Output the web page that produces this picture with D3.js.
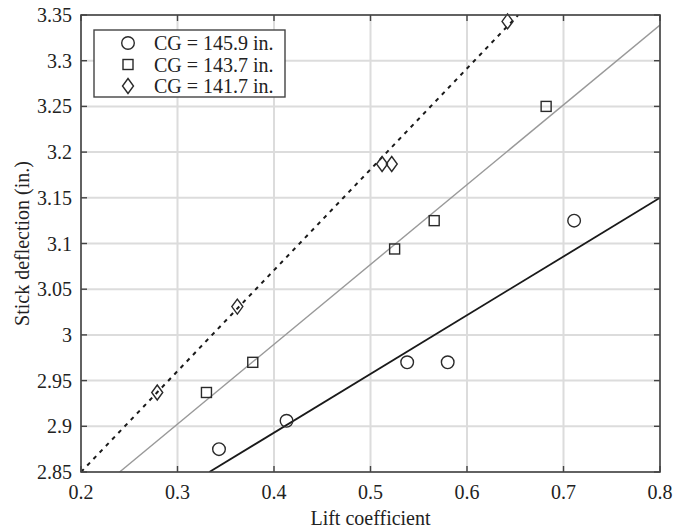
<!DOCTYPE html>
<html>
<head>
<meta charset="utf-8">
<script src="https://cdn.jsdelivr.net/npm/d3@7"></script>
<style>
  body { margin: 0; background: #fff; }
  text { font-family: "Liberation Serif", "Times New Roman", serif; fill: #222; }
</style>
</head>
<body>
<div id="chart"></div>
<script>
const xTicks = [0.2, 0.3, 0.4, 0.5, 0.6, 0.7, 0.8];
const yTicks = [2.85, 2.9, 2.95, 3, 3.05, 3.1, 3.15, 3.2, 3.25, 3.3, 3.35];

const seriesNames = ["CG = 145.9 in.", "CG = 143.7 in.", "CG = 141.7 in."];
const circleX = [0.343, 0.413, 0.538, 0.580, 0.711];
const circleY = [2.875, 2.906, 2.970, 2.970, 3.125];
const squareX = [0.330, 0.378, 0.525, 0.566, 0.682];
const squareY = [2.937, 2.970, 3.094, 3.125, 3.250];
const diamondX = [0.279, 0.362, 0.512, 0.522, 0.642];
const diamondY = [2.937, 3.031, 3.187, 3.187, 3.343];

// fitted lines: [x0, y0, x1, y1]
const fit145 = [0.333, 2.85, 0.8, 3.15];
const fit143 = [0.240, 2.85, 0.8, 3.339];
const fit141 = [0.200, 2.85, 0.653, 3.35];

const W = 673, H = 531;
const margin = { top: 15, right: 13, bottom: 59, left: 81 };
const width = W - margin.left - margin.right;
const height = H - margin.top - margin.bottom;

const svg = d3.select("#chart").append("svg").attr("width", W).attr("height", H);
const g = svg.append("g").attr("transform", `translate(${margin.left},${margin.top})`);

const x = d3.scaleLinear().domain([0.2, 0.8]).range([0, width]);
const y = d3.scaleLinear().domain([2.85, 3.35]).range([height, 0]);

// grid
g.append("g").selectAll("line").data(xTicks).enter().append("line")
  .attr("x1", d => x(d)).attr("x2", d => x(d))
  .attr("y1", 0).attr("y2", height)
  .attr("stroke", "#dcdcdc").attr("stroke-width", 2);
g.append("g").selectAll("line").data(yTicks).enter().append("line")
  .attr("y1", d => y(d)).attr("y2", d => y(d))
  .attr("x1", 0).attr("x2", width)
  .attr("stroke", "#dcdcdc").attr("stroke-width", 2);

g.append("clipPath").attr("id", "clip").append("rect")
  .attr("width", width).attr("height", height);

const lines = g.append("g").attr("clip-path", "url(#clip)");
function fitLine(f, color, w, dash) {
  lines.append("line")
    .attr("x1", x(f[0])).attr("y1", y(f[1]))
    .attr("x2", x(f[2])).attr("y2", y(f[3]))
    .attr("stroke", color).attr("stroke-width", w)
    .attr("stroke-dasharray", dash);
}
fitLine(fit145, "#1a1a1a", 1.8, null);
fitLine(fit143, "#999", 1.4, null);
fitLine(fit141, "#1a1a1a", 2, "4,5");

// markers
const mk = "#2a2a2a";
function drawCircle(sel, cx, cy) {
  sel.append("circle").attr("cx", cx).attr("cy", cy).attr("r", 6.3)
    .attr("fill", "none").attr("stroke", mk).attr("stroke-width", 1.4);
}
function drawSquare(sel, cx, cy) {
  sel.append("rect").attr("x", cx - 5).attr("y", cy - 5).attr("width", 10).attr("height", 10)
    .attr("fill", "none").attr("stroke", mk).attr("stroke-width", 1.4);
}
function drawDiamond(sel, cx, cy) {
  sel.append("path").attr("d", `M${cx},${cy - 7.5}L${cx + 5.5},${cy}L${cx},${cy + 7.5}L${cx - 5.5},${cy}Z`)
    .attr("fill", "none").attr("stroke", mk).attr("stroke-width", 1.4);
}
const pts = g.append("g");
circleX.forEach((v, i) => drawCircle(pts, x(v), y(circleY[i])));
squareX.forEach((v, i) => drawSquare(pts, x(v), y(squareY[i])));
diamondX.forEach((v, i) => drawDiamond(pts, x(v), y(diamondY[i])));

// box and ticks
const axisColor = "#444";
g.append("rect").attr("width", width).attr("height", height)
  .attr("fill", "none").attr("stroke", axisColor).attr("stroke-width", 1.6);
const tl = 6;
xTicks.forEach(t => {
  g.append("line").attr("x1", x(t)).attr("x2", x(t)).attr("y1", height).attr("y2", height - tl)
    .attr("stroke", axisColor).attr("stroke-width", 1.4);
  g.append("line").attr("x1", x(t)).attr("x2", x(t)).attr("y1", 0).attr("y2", tl)
    .attr("stroke", axisColor).attr("stroke-width", 1.4);
});
yTicks.forEach(t => {
  g.append("line").attr("y1", y(t)).attr("y2", y(t)).attr("x1", 0).attr("x2", tl)
    .attr("stroke", axisColor).attr("stroke-width", 1.4);
  g.append("line").attr("y1", y(t)).attr("y2", y(t)).attr("x1", width).attr("x2", width - tl)
    .attr("stroke", axisColor).attr("stroke-width", 1.4);
});

// tick labels
g.append("g").selectAll("text").data(xTicks).enter().append("text")
  .attr("x", d => x(d)).attr("y", height + 20)
  .attr("dy", "0.35em").attr("text-anchor", "middle")
  .attr("font-size", 20).text(d => d3.format(".1f")(d));
g.append("g").selectAll("text").data(yTicks).enter().append("text")
  .attr("x", -9).attr("y", d => y(d))
  .attr("dy", "0.35em").attr("text-anchor", "end")
  .attr("font-size", 20).text(d => String(+d.toFixed(2)));

// axis titles
g.append("text")
  .attr("x", width / 2).attr("y", height + 46)
  .attr("dy", "0.35em").attr("text-anchor", "middle")
  .attr("font-size", 20).text("Lift coefficient");
g.append("text")
  .attr("transform", "rotate(-90)")
  .attr("x", -height / 2).attr("y", -59)
  .attr("dy", "0.35em").attr("text-anchor", "middle")
  .attr("font-size", 20).text("Stick deflection (in.)");

// legend
const lg = svg.append("g");
lg.append("rect").attr("x", 94).attr("y", 30).attr("width", 191).attr("height", 67)
  .attr("fill", "#fff").attr("stroke", axisColor).attr("stroke-width", 1.4);
const rowY = [43, 64.5, 86];
drawCircle(lg, 128, rowY[0]);
drawSquare(lg, 128, rowY[1]);
drawDiamond(lg, 128, rowY[2]);
lg.selectAll("text.leg").data(seriesNames).enter().append("text")
  .attr("class", "leg")
  .attr("x", 154).attr("y", (d, i) => rowY[i])
  .attr("dy", "0.35em").attr("font-size", 20).text(d => d);
</script>
</body>
</html>
